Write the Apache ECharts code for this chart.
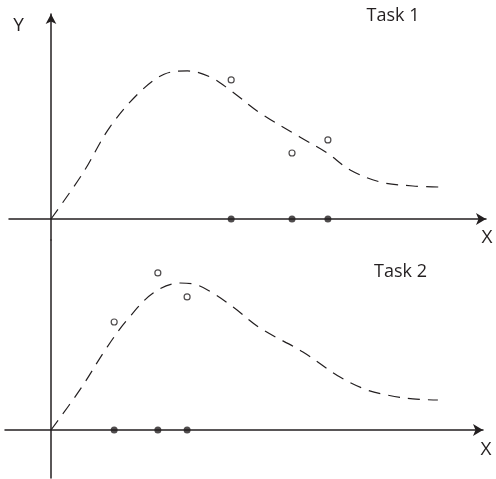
<!DOCTYPE html>
<html>
<head>
<meta charset="utf-8">
<script src="https://cdn.jsdelivr.net/npm/echarts@6/dist/echarts.min.js"></script>
<style>html,body{margin:0;padding:0;background:#fff}#c{width:496px;height:479px}</style>
</head>
<body>
<div id="c"></div>
<script>
// Task 1 (top panel)
const task1CurveX = [0, 0.82, 1.51, 2.28, 2.9, 3.5, 4.08, 4.59, 5.36, 6.38, 7.08, 7.67, 8.44, 9.28, 9.97];
const task1CurveY = [0, 3.07, 6.13, 8.47, 9.65, 9.87, 9.47, 8.6, 7.07, 5.47, 4.4, 3.27, 2.47, 2.2, 2.13];
const task1ObsX = [4.62, 6.18, 7.1];
const task1ObsY = [9.27, 4.4, 5.27];
// Task 2 (bottom panel)
const task2CurveX = [0, 0.74, 1.44, 1.95, 2.62, 3.31, 3.74, 4.15, 4.67, 5.36, 6.46, 7.41, 8.1, 8.62, 9.28, 9.92];
const task2CurveY = [0, 2.67, 5.53, 7.33, 9.13, 9.8, 9.67, 9.13, 8.2, 6.8, 5.2, 3.53, 2.67, 2.33, 2.07, 2.0];
const task2ObsX = [1.62, 2.74, 3.49];
const task2ObsY = [7.2, 10.47, 8.87];
// labels
const axisLabelX = 'X';
const axisLabelY = 'Y';
const panelTitles = ['Task 1', 'Task 2'];

const ink = '#231f20';
const font = '"Open Sans", "Liberation Sans", sans-serif';
const zip = (xs, ys) => xs.map((x, i) => [x, ys[i]]);

const chart = echarts.init(document.getElementById('c'), null, {renderer: 'canvas'});

const axisCommon = {
  type: 'value',
  axisTick: {show: false},
  axisLabel: {show: false},
  splitLine: {show: false}
};

chart.setOption({
  animation: false,
  backgroundColor: '#fff',
  grid: [
    {left: 9, right: 10, top: 14, height: 226},
    {left: 5, right: 13, top: 240, height: 238}
  ],
  xAxis: [
    Object.assign({}, axisCommon, {gridIndex: 0, min: -1.077, max: 11.154,
      axisLine: {onZero: true, lineStyle: {color: ink, width: 1.5}, symbol: ['none', 'arrow'], symbolSize: [9, 10]}}),
    Object.assign({}, axisCommon, {gridIndex: 1, min: -1.179, max: 11.077,
      axisLine: {onZero: true, lineStyle: {color: ink, width: 1.5}, symbol: ['none', 'arrow'], symbolSize: [9, 10]}})
  ],
  yAxis: [
    Object.assign({}, axisCommon, {gridIndex: 0, min: -1.4, max: 13.667,
      axisLine: {onZero: true, lineStyle: {color: ink, width: 1.5}, symbol: ['none', 'arrow'], symbolSize: [8, 10]}}),
    Object.assign({}, axisCommon, {gridIndex: 1, min: -3.2, max: 12.667,
      axisLine: {onZero: true, lineStyle: {color: ink, width: 1.5}, symbol: 'none'}})
  ],
  series: [
    {type: 'line', xAxisIndex: 0, yAxisIndex: 0, data: zip(task1CurveX, task1CurveY), smooth: 0.35, showSymbol: false,
      lineStyle: {color: ink, width: 1.2, type: [12, 8]}},
    {type: 'scatter', xAxisIndex: 0, yAxisIndex: 0, data: zip(task1ObsX, task1ObsY), symbol: 'circle', symbolSize: 6,
      itemStyle: {color: '#fff', borderColor: ink, borderWidth: 1.2}},
    {type: 'scatter', xAxisIndex: 0, yAxisIndex: 0, data: task1ObsX.map(x => [x, 0]), symbol: 'circle', symbolSize: 7,
      itemStyle: {color: ink}},
    {type: 'line', xAxisIndex: 1, yAxisIndex: 1, data: zip(task2CurveX, task2CurveY), smooth: 0.35, showSymbol: false,
      lineStyle: {color: ink, width: 1.2, type: [12, 8]}},
    {type: 'scatter', xAxisIndex: 1, yAxisIndex: 1, data: zip(task2ObsX, task2ObsY), symbol: 'circle', symbolSize: 6,
      itemStyle: {color: '#fff', borderColor: ink, borderWidth: 1.2}},
    {type: 'scatter', xAxisIndex: 1, yAxisIndex: 1, data: task2ObsX.map(x => [x, 0]), symbol: 'circle', symbolSize: 7,
      itemStyle: {color: ink}}
  ],
  graphic: [
    {type: 'text', x: 18.5, y: 26, style: {text: axisLabelY, font: '19px ' + font, fill: ink, align: 'center', verticalAlign: 'middle'}},
    {type: 'text', x: 393, y: 16, style: {text: panelTitles[0], font: '18px ' + font, fill: ink, align: 'center', verticalAlign: 'middle'}},
    {type: 'text', x: 487, y: 238, style: {text: axisLabelX, font: '19px ' + font, fill: ink, align: 'center', verticalAlign: 'middle'}},
    {type: 'text', x: 400.5, y: 272, style: {text: panelTitles[1], font: '18px ' + font, fill: ink, align: 'center', verticalAlign: 'middle'}},
    {type: 'text', x: 486, y: 449.5, style: {text: axisLabelX, font: '19px ' + font, fill: ink, align: 'center', verticalAlign: 'middle'}}
  ]
});
</script>
</body>
</html>
